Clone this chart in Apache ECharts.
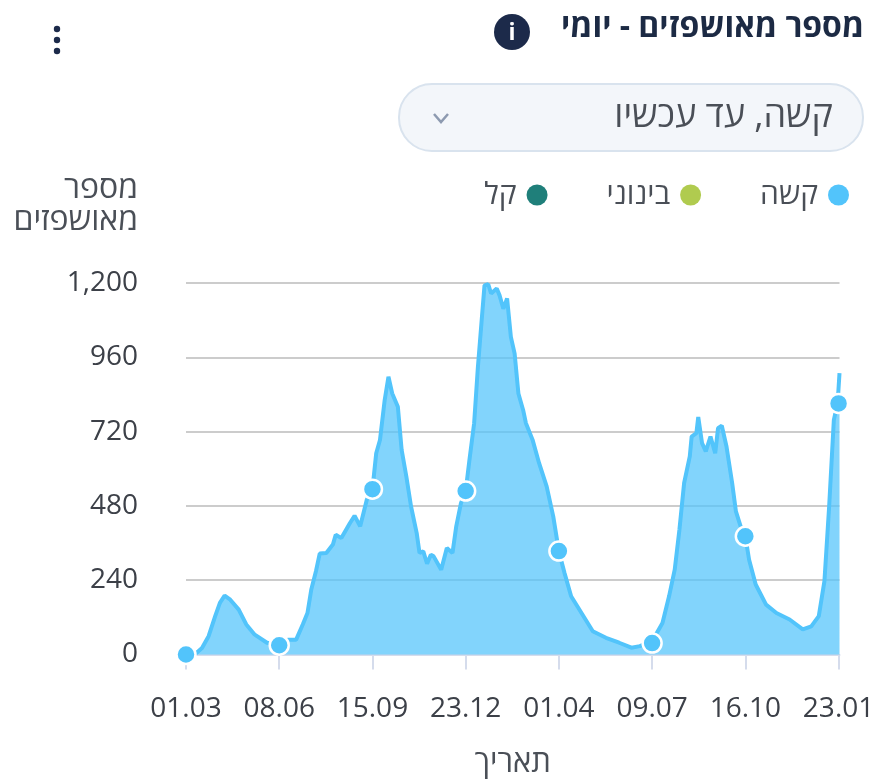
<!DOCTYPE html>
<html><head><meta charset="utf-8">
<style>html,body{margin:0;padding:0;background:#fff}#c{width:875px;height:782px}</style>
<script src="https://cdn.jsdelivr.net/npm/echarts@6/dist/echarts.min.js"></script>
</head><body><div id="c"></div>
<script>
const tickLabels = ['01.03','08.06','15.09','23.12','01.04','09.07','16.10','23.01'];
const days = [0,11,17,24,31,36,41,47,56,64,73,86,99,109,117,124,129,133,138,142,149,156,159,165,174,179,185,192,198,202,206,211,215,219,225,229,234,239,245,248,252,256,260,263,271,277,283,287,292,297,301,306,310,314,317,321,324,330,333,337,341,345,349,353,358,361,368,375,383,390,396,402,409,420,432,446,460,473,482,495,506,513,519,524,529,535,537,542,544,546,548,552,557,562,565,569,574,580,584,589,594,598,605,616,627,641,655,664,672,678,683,688,692,694];
const severe = [0,5,21,59,124,167,190,177,145,97,64,38,32,48,48,97,134,209,269,326,328,355,387,376,424,448,414,500,534,650,693,822,897,843,800,661,575,478,392,328,333,293,322,317,274,344,328,414,489,528,628,747,929,1080,1192,1196,1166,1182,1160,1117,1150,1026,972,843,790,747,694,618,543,446,333,263,188,134,75,54,38,22,27,43,102,188,274,403,554,640,704,715,767,767,683,656,704,650,731,739,672,554,462,414,382,306,226,161,134,113,81,91,124,237,478,758,812,909];
const markerDays = [0,99,198,297,396,495,594,693];
const markerValues = [0,30,534,528,334,37,382,811];
const seriesNames = ['קשה','בינוני','קל'];
const seriesColors = ['#52c4fb','#b0cb4f','#1f7f7a'];
const titleText = 'מספר מאושפזים - יומי';
const dropdownText = 'קשה, עד עכשיו';
const yName = 'מספר\nמאושפזים';
const xName = 'תאריך';

const font = '"Open Sans","Liberation Sans",sans-serif';
const chart = echarts.init(document.getElementById('c'));
chart.setOption({
  animation:false,
  textStyle:{fontFamily:font},
  title:{text:titleText,right:6,top:7,textStyle:{fontSize:32,fontWeight:'bold',color:'#1c2a44',fontFamily:font}},
  legend:{
    data:[seriesNames[2],seriesNames[1],seriesNames[0]].map(n=>({name:n,icon:'circle'})),
    right:21,top:175,align:'right',itemGap:59,itemWidth:21,itemHeight:21,
    textStyle:{fontSize:30,color:'#4a4f57',fontFamily:font,padding:[0,5,0,0]},
    selectedMode:false
  },
  grid:{left:186,right:35.5,top:283,bottom:127.5,outerBoundsMode:'none'},
  xAxis:{
    type:'value',min:0,max:694,interval:99,
    name:xName,nameLocation:'middle',nameGap:93,
    nameTextStyle:{fontSize:31,color:'#4a4f57',fontFamily:font},
    splitLine:{show:false},
    axisLine:{show:true,lineStyle:{color:'#d5dcec',width:2}},
    axisTick:{show:true,length:15,lineStyle:{color:'#d5dcec',width:2}},
    axisLabel:{fontSize:28,color:'#3c4048',margin:41,showMaxLabel:false,hideOverlap:false,
      formatter:v=>tickLabels[Math.round(v/99)]||''}
  },
  yAxis:{
    type:'value',min:0,max:1200,interval:240,
    name:yName,nameLocation:'end',nameGap:46,
    nameTextStyle:{fontSize:32,color:'#4a4f57',align:'right',padding:[0,48,0,0],lineHeight:32,fontFamily:font},
    axisLine:{show:false},axisTick:{show:false},
    splitLine:{lineStyle:{color:'#cccccc',width:2}},
    axisLabel:{fontSize:28,color:'#3c4048',margin:48,padding:[6,0,0,0],formatter:v=>v.toLocaleString('en-US')}
  },
  series:[
    {name:seriesNames[0],type:'line',showSymbol:false,symbol:'none',smooth:false,z:3,
     data:days.map((d,i)=>[d,severe[i]]),itemStyle:{color:seriesColors[0]},
     lineStyle:{color:seriesColors[0],width:4},
     areaStyle:{color:seriesColors[0],opacity:0.72}},
    {name:seriesNames[1],type:'line',data:[],itemStyle:{color:seriesColors[1]}},
    {name:seriesNames[2],type:'line',data:[],itemStyle:{color:seriesColors[2]}},
    {name:seriesNames[0],type:'scatter',z:5,symbol:'circle',symbolSize:19,
     data:markerDays.map((d,i)=>[d,markerValues[i]]),
     itemStyle:{color:seriesColors[0],borderColor:'#fff',borderWidth:2.5,opacity:1}}
  ],
  graphic:[
    {type:'circle',shape:{cx:512,cy:32,r:18},style:{fill:'#1c2a4a'}},
    {type:'text',style:{text:'i',x:512,y:33,align:'center',verticalAlign:'middle',fill:'#fff',font:'bold 23px "Open Sans"'}},
    {type:'circle',shape:{cx:57,cy:29,r:3.2},style:{fill:'#1c2a4a'}},
    {type:'circle',shape:{cx:57,cy:40,r:3.2},style:{fill:'#1c2a4a'}},
    {type:'circle',shape:{cx:57,cy:51,r:3.2},style:{fill:'#1c2a4a'}},
    {type:'rect',shape:{x:399,y:84,width:464,height:67,r:33},style:{fill:'#f3f6fa',stroke:'#d9e3ee',lineWidth:2}},
    {type:'text',style:{text:dropdownText,x:833,y:117,align:'right',verticalAlign:'middle',fill:'#4a4f57',font:'36px "Open Sans","Liberation Sans",sans-serif'}},
    {type:'polyline',shape:{points:[[434,114],[441,122],[448,114]]},style:{stroke:'#8d9ab0',lineWidth:2.5,fill:null}}
  ]
});
</script></body></html>
